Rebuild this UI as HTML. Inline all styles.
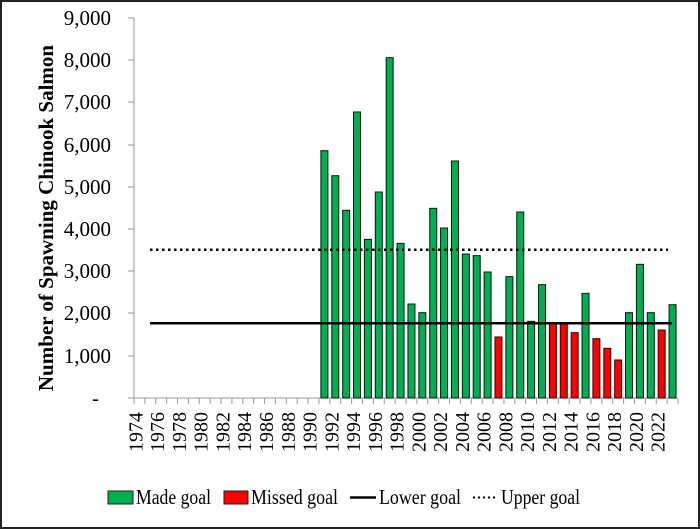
<!DOCTYPE html>
<html><head><meta charset="utf-8"><style>
html,body{margin:0;padding:0;background:#fff;}
svg{display:block;font-family:"Liberation Serif",serif;}
</style></head><body>
<svg width="700" height="529" viewBox="0 0 700 529">
<rect x="1" y="1" width="698" height="527" fill="#fff" stroke="#222" stroke-width="2"/>
<text transform="translate(53,218) rotate(-90)" text-anchor="middle" font-size="21" font-weight="bold">Number of Spawning Chinook Salmon</text>
<g font-size="21" text-anchor="end" fill="#000">
<text x="111" y="25">9,000</text>
<text x="111" y="67">8,000</text>
<text x="111" y="109">7,000</text>
<text x="111" y="152">6,000</text>
<text x="111" y="194">5,000</text>
<text x="111" y="236">4,000</text>
<text x="111" y="278">3,000</text>
<text x="111" y="320">2,000</text>
<text x="111" y="363">1,000</text>
<text x="99" y="405">-</text>
</g>
<g stroke="#999" stroke-width="1">
<line x1="134" y1="18" x2="134" y2="398"/>
<line x1="128" y1="18" x2="134" y2="18"/>
<line x1="128" y1="60" x2="134" y2="60"/>
<line x1="128" y1="102" x2="134" y2="102"/>
<line x1="128" y1="145" x2="134" y2="145"/>
<line x1="128" y1="187" x2="134" y2="187"/>
<line x1="128" y1="229" x2="134" y2="229"/>
<line x1="128" y1="271" x2="134" y2="271"/>
<line x1="128" y1="313" x2="134" y2="313"/>
<line x1="128" y1="356" x2="134" y2="356"/>
<line x1="128" y1="398" x2="678" y2="398"/>
</g>
<g id="bars" stroke="#111" stroke-width="1"></g>
<g id="ticks" stroke="#999" stroke-width="1"></g>
<g id="labels" font-size="20"></g>
<line x1="150" y1="323.3" x2="672" y2="323.3" stroke="#000" stroke-width="2.5"/>
<line x1="150" y1="249.7" x2="668" y2="249.7" stroke="#000" stroke-width="2.5" stroke-dasharray="2.5,3.5"/>
<g font-size="21">
<rect x="108" y="491" width="25" height="13" fill="#00b050" stroke="#222"/>
<text x="136" y="504" textLength="75" lengthAdjust="spacingAndGlyphs">Made goal</text>
<rect x="224" y="491" width="24" height="13" fill="#ff0000" stroke="#222"/>
<text x="251" y="504" textLength="87" lengthAdjust="spacingAndGlyphs">Missed goal</text>
<line x1="350" y1="497.5" x2="376" y2="497.5" stroke="#000" stroke-width="2.5"/>
<text x="379" y="504" textLength="82" lengthAdjust="spacingAndGlyphs">Lower goal</text>
<line x1="473" y1="497.5" x2="498" y2="497.5" stroke="#000" stroke-width="2" stroke-dasharray="2,3"/>
<text x="501" y="504" textLength="79" lengthAdjust="spacingAndGlyphs">Upper goal</text>
</g>
</svg>
<script>
var d={1991:5857,1992:5265,1993:4445,1994:6774,1995:3758,1996:4879,1997:8060,1998:3663,1999:2226,2000:2021,2001:4492,2002:4026,2003:5613,2004:3410,2005:3371,2006:2984,2007:1445,2008:2874,2009:4405,2010:1816,2011:2684,2012:1768,2013:1768,2014:1547,2015:2479,2016:1405,2017:1176,2018:900,2019:2021,2020:3166,2021:2021,2022:1610,2023:2210};
var red={2007:1,2012:1,2013:1,2014:1,2016:1,2017:1,2018:1,2022:1};
var ns="http://www.w3.org/2000/svg";
var bars=document.getElementById("bars"),ticks=document.getElementById("ticks"),labels=document.getElementById("labels");
var w=544/50;
for(var i=0;i<=50;i++){var l=document.createElementNS(ns,"line");var x=134+i*w;l.setAttribute("x1",x);l.setAttribute("x2",x);l.setAttribute("y1",398);l.setAttribute("y2",404);ticks.appendChild(l);}
for(var i=0;i<50;i++){var y=1974+i;var c=134+(i+0.5)*w;
if(d[y]){var h=d[y]*380/9000;var r=document.createElementNS(ns,"rect");r.setAttribute("x",c-3.5);r.setAttribute("width",7);r.setAttribute("y",398-h);r.setAttribute("height",h);r.setAttribute("fill",red[y]?"#ff0000":"#00b050");bars.appendChild(r);}
if(i%2==0){var t=document.createElementNS(ns,"text");t.setAttribute("transform","translate("+(c+3)+",452) rotate(-90)");t.textContent=y;labels.appendChild(t);}}
</script>
</body></html>
